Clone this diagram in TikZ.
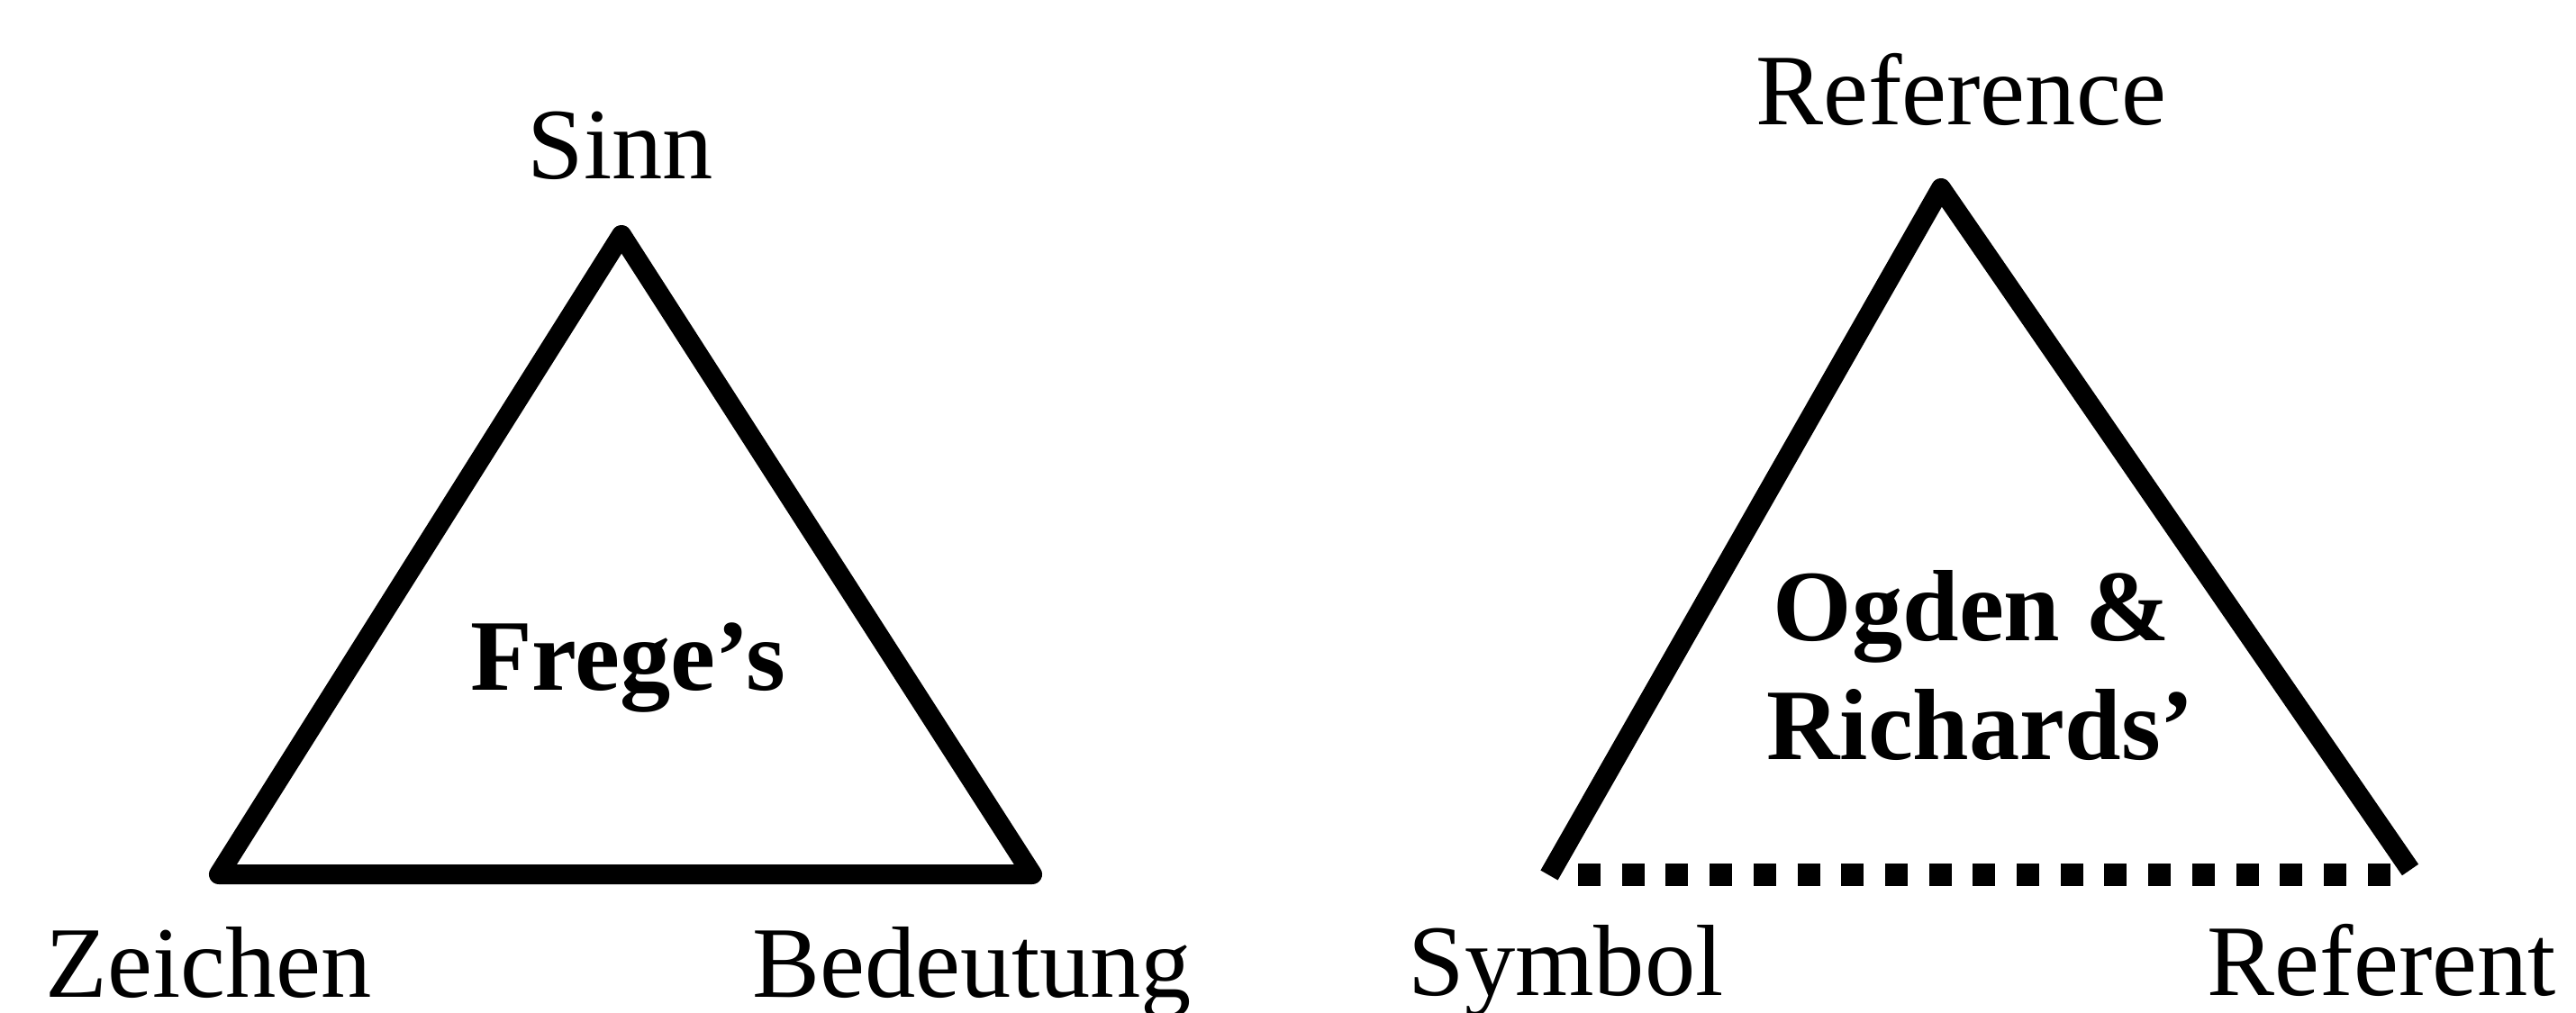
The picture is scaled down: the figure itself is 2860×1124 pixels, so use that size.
\documentclass[tikz,border=0pt]{standalone}
\usepackage{fontspec}
\setmainfont{Liberation Serif}
\begin{document}
\begin{tikzpicture}[
  x=0.1mm, y=-0.1mm,
  side/.style={line width=2.2mm, line join=round},
  dotline/.style={line width=2.5mm, dash pattern=on 2.5mm off 2.37mm},
  lbl/.style={inner sep=0pt, anchor=base, font=\fontsize{32}{38}\selectfont},
  title/.style={lbl, font=\fontsize{32}{38}\selectfont\bfseries}
]
  \useasboundingbox (0,0) rectangle (2860,1124);
  % Frege's triangle
  \coordinate (sn) at (690,261);
  \coordinate (zc) at (243,971);
  \coordinate (bd) at (1146,971);
  \draw[side] (zc) -- (sn) -- (bd) -- cycle;
  \node[lbl] (sinn) at (689,198) {Sinn};
  \node[lbl, anchor=base west] (zeichen) at (50,1107) {Zeichen};
  \node[lbl, anchor=base west] (bedeutung) at (835,1107) {Bedeutung};
  \node[title] (frege) at (697,766) {Frege’s};
  % Ogden & Richards' triangle
  \coordinate (rc) at (2155,209);
  \coordinate (sy) at (1720,972);
  \coordinate (rf) at (2676,966);
  \coordinate (dotl) at (1752,971);
  \coordinate (dotr) at (2654,971);
  \draw[side] (sy) -- (rc) -- (rf);
  \draw[dotline] (dotl) -- (dotr);
  \node[lbl] (reference) at (2177,138) {Reference};
  \node[lbl, anchor=base west] (symbol) at (1563,1105) {Symbol};
  \node[lbl, anchor=base west] (referent) at (2450,1105) {Referent};
  \node[title] (ogden) at (2189,711) {Ogden \&};
  \node[title] (richards) at (2199,843) {Richards’};
\end{tikzpicture}
\end{document}
